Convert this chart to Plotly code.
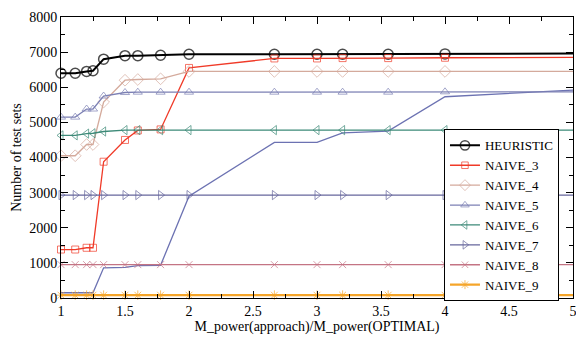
import plotly.graph_objects as go

x_ratio = [1.0, 1.111, 1.2, 1.25, 1.333, 1.5, 1.6, 1.778, 2.0, 2.667, 3.0, 3.2, 3.556, 4.0, 5.0]

heuristic = [6400, 6400, 6450, 6470, 6800, 6900, 6900, 6910, 6940, 6940, 6940, 6940, 6940, 6950, 6960]
naive_3 = [1380, 1380, 1430, 1430, 3880, 4500, 4770, 4800, 6550, 6820, 6820, 6830, 6830, 6840, 6850]
naive_4 = [4050, 4050, 4370, 4370, 5580, 6200, 6220, 6240, 6450, 6450, 6450, 6450, 6450, 6450, 6450]
naive_5 = [5150, 5150, 5380, 5380, 5750, 5850, 5860, 5860, 5860, 5860, 5860, 5860, 5860, 5870, 5870]
naive_6 = [4630, 4630, 4680, 4690, 4740, 4780, 4780, 4780, 4780, 4780, 4780, 4780, 4780, 4780, 4780]
naive_7 = [2930] * 15
naive_8 = [950] * 15
naive_9 = [80] * 15
unlabeled = [150, 150, 150, 150, 860, 870, 920, 930, 2900, 4430, 4430, 4700, 4750, 5730, 5920]

series = [
    ("HEURISTIC", heuristic, "#000000", "circle-open", 10, 2.0),
    ("NAIVE_3", naive_3, "#f03a28", "square-open", 7, 1.3),
    ("NAIVE_4", naive_4, "#d4aa9c", "diamond-open", 9, 1.3),
    ("NAIVE_5", naive_5, "#7c80b4", "triangle-up-open", 8, 1.3),
    ("NAIVE_6", naive_6, "#3d8a78", "triangle-left-open", 8, 1.3),
    ("NAIVE_7", naive_7, "#66669c", "triangle-right-open", 8, 1.3),
    ("NAIVE_8", naive_8, "#c47484", "x-thin-open", 7, 1.3),
    ("NAIVE_9", naive_9, "#f5a52a", "asterisk-open", 8, 2.2),
]

fig = go.Figure()

fig.add_trace(go.Scatter(
    x=x_ratio, y=unlabeled, mode="lines", showlegend=False,
    line=dict(color="#6c72b2", width=1.3), hoverinfo="skip",
))

n = len(x_ratio)
for name, vals, color, sym, size, lw in series:
    sizes = [size] * (n - 1) + [0]
    fig.add_trace(go.Scatter(
        x=x_ratio, y=vals, mode="lines+markers", name=name,
        line=dict(color=color, width=lw),
        marker=dict(symbol=sym, size=sizes, color=color,
                    line=dict(color=color, width=1.5 if name == "HEURISTIC" else 1)),
        cliponaxis=False,
    ))

font_family = "Liberation Serif, Times New Roman, DejaVu Serif, serif"
# the page body adds an 8px margin, so the figure is 8px smaller and margins compensate
fig.update_layout(
    width=576, height=333,
    margin=dict(l=53, r=11, t=9, b=43),
    paper_bgcolor="white", plot_bgcolor="white",
    font=dict(family=font_family, size=14, color="black"),
    showlegend=True,
    legend=dict(
        x=0.748, y=0.60, xanchor="left", yanchor="top",
        bordercolor="black", borderwidth=1, bgcolor="white",
        font=dict(family=font_family, size=13, color="black"),
        tracegroupgap=0, itemwidth=30,
    ),
)

fig.update_xaxes(
    range=[1, 5], dtick=0.5, tick0=1, automargin=False,
    showgrid=False, zeroline=False,
    showline=True, linecolor="black", linewidth=1, mirror="allticks",
    ticks="inside", ticklen=7, tickcolor="black",
    minor=dict(dtick=0.25, ticks="inside", ticklen=4, tickcolor="black", showgrid=False),
    tickfont=dict(family=font_family, size=14),
    title=dict(text="M_power(approach)/M_power(OPTIMAL)", font=dict(family=font_family, size=14), standoff=0),
)
fig.update_yaxes(
    range=[0, 8000], dtick=1000, tick0=0, automargin=False,
    showgrid=False, zeroline=False,
    showline=True, linecolor="black", linewidth=1, mirror="allticks",
    ticks="inside", ticklen=7, tickcolor="black",
    minor=dict(dtick=500, ticks="inside", ticklen=4, tickcolor="black", showgrid=False),
    tickfont=dict(family=font_family, size=14),
    title=dict(text="Number of test sets", font=dict(family=font_family, size=14), standoff=4),
)

fig.write_html("out.html")
